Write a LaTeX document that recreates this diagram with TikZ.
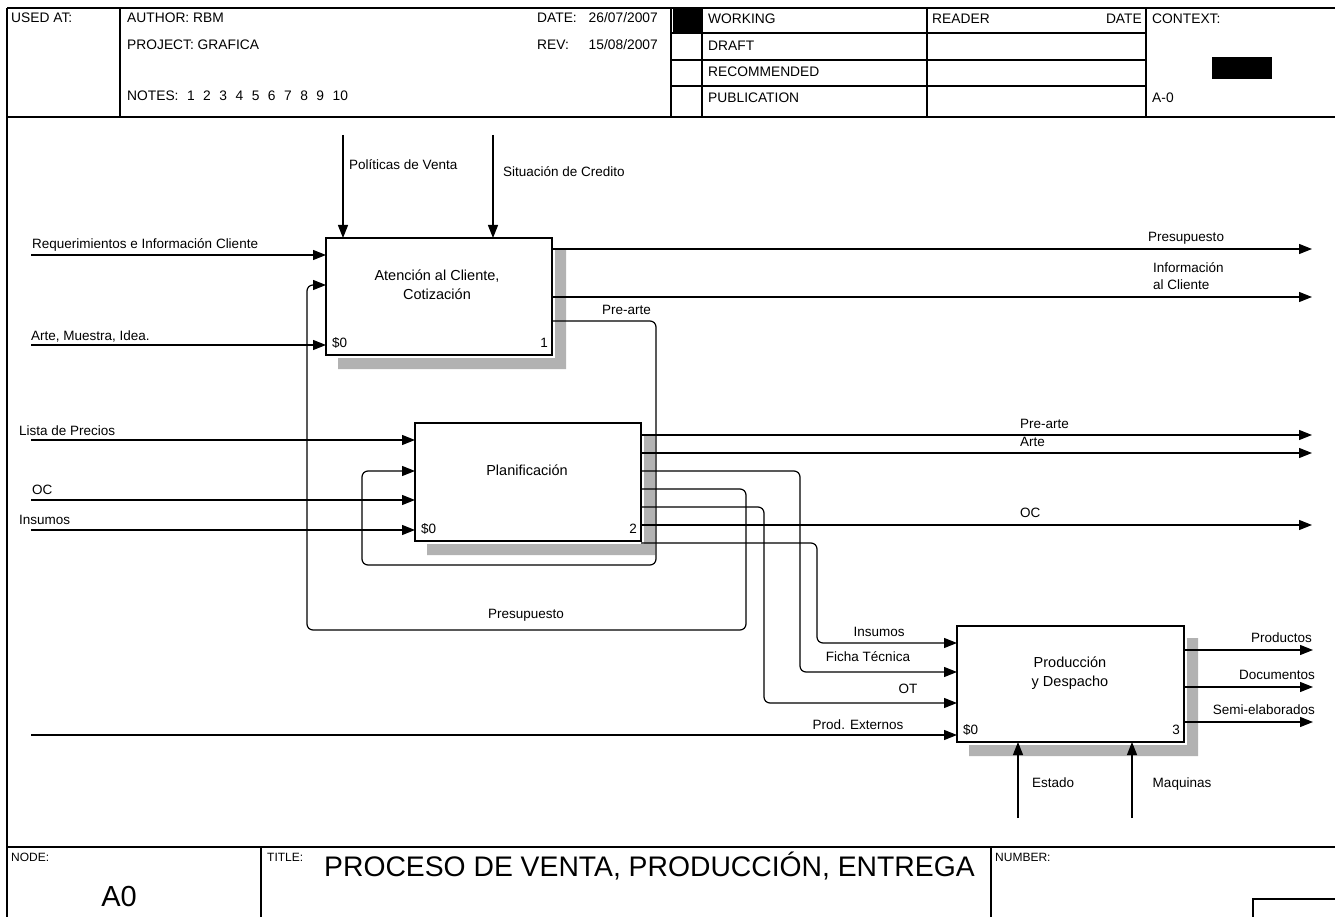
\documentclass[tikz,border=0pt]{standalone}
\usepackage{fontspec}
\setmainfont{Liberation Sans}
\usetikzlibrary{arrows.meta,calc}
\newcommand\fhdr{\fontsize{13.8}{16}\selectfont}
\newcommand\flbl{\fontsize{13.5}{17}\selectfont}
\newcommand\fproc{\fontsize{14.5}{19}\selectfont}
\newcommand\fsml{\fontsize{12}{14}\selectfont}
\newcommand\nsp{\hspace{8.5pt}}
\newcommand\boxshadow[1]{%
  \fill[shd] ($(#1.north east)+(3,12)$) -- ($(#1.north east)+(14,12)$) --
    ($(#1.south east)+(14,14)$) -- ($(#1.south west)+(12,14)$) --
    ($(#1.south west)+(12,3)$) -- ($(#1.south east)+(3,3)$) -- cycle;}
\begin{document}
\begin{tikzpicture}[x=1pt,y=-1pt,
  frame/.style={line width=1.4pt},
  procbox/.style={draw, line width=2.6pt, inner sep=0pt, outer sep=0pt},
  conn/.style={line width=1.2pt, rounded corners=6pt},
  arr/.style={conn, -{Triangle[length=13pt,width=10pt]}},
  lbl/.style={font=\flbl, inner sep=0pt},
  boxlbl/.style={font=\fproc, inner sep=0pt, align=center},
  hdr/.style={font=\fhdr, inner sep=0pt},
  sml/.style={font=\fsml, inner sep=0pt},
  shd/.style={fill=black!30}]
\useasboundingbox (0,0) rectangle (1335,917);

% ---------- frame and header ----------
\draw[frame] (7,8) -- (1335,8);
\draw[frame] (7,8) -- (7,917);
\draw[frame] (7,117) -- (1335,117);
\draw[frame] (7,847) -- (1335,847);
\foreach \x in {120,671,702,927,1146} \draw[frame] (\x,8) -- (\x,117);
\foreach \y in {33,60,86} \draw[frame] (671,\y) -- (1146,\y);
\fill (673,9) rectangle (702,32);
\fill (1212,57) rectangle (1272,79);
\draw[frame] (261,847) -- (261,917);
\draw[frame] (991,847) -- (991,917);
\draw[frame] (1335,899) -| (1253,917);

\node[hdr, anchor=base west] (hused) at (11,23) {USED AT:};
\node[hdr, anchor=base west] (hauth) at (127,23) {AUTHOR: RBM};
\node[hdr, anchor=base west] (hproj) at (127,50) {PROJECT: GRAFICA};
\node[hdr, anchor=base west] (hnotes) at (127,101) {NOTES:\nsp 1\nsp 2\nsp 3\nsp 4\nsp 5\nsp 6\nsp 7\nsp 8\nsp 9\nsp 10};
\node[hdr, anchor=base west] (hdate) at (537,23) {DATE:};
\node[hdr, anchor=base east] (hdatev) at (658,23) {26/07/2007};
\node[hdr, anchor=base west] (hrev) at (537,50) {REV:};
\node[hdr, anchor=base east] (hrevv) at (658,50) {15/08/2007};
\node[hdr, anchor=base west] (hwork) at (708,24) {WORKING};
\node[hdr, anchor=base west] (hdraft) at (708,51) {DRAFT};
\node[hdr, anchor=base west] (hrec) at (708,77) {RECOMMENDED};
\node[hdr, anchor=base west] (hpub) at (708,103) {PUBLICATION};
\node[hdr, anchor=base west] (hread) at (932,24) {READER};
\node[hdr, anchor=base east] (hrdate) at (1142,24) {DATE};
\node[hdr, anchor=base west] (hctx) at (1152,24) {CONTEXT:};
\node[hdr, anchor=base west] (hnode) at (1152,103) {A-0};

% ---------- footer ----------
\node[sml, anchor=base west] (fnode) at (11,861) {NODE:};
\node[sml, anchor=base west] (ftitle) at (267,861) {TITLE:};
\node[sml, anchor=base west] (fnum) at (995,861) {NUMBER:};
\node[inner sep=0pt, anchor=base west, font=\fontsize{28.3}{32}\selectfont] (title) at (324,876) {PROCESO DE VENTA, PRODUCCIÓN, ENTREGA};
\node[inner sep=0pt, anchor=base, font=\fontsize{29}{32}\selectfont] (a0) at (119,906) {A0};

% ---------- activity boxes ----------
\node[procbox, minimum width=226pt, minimum height=117pt] (b1) at (439,296.5) {};
\node[procbox, minimum width=226pt, minimum height=118pt] (b2) at (528,482) {};
\node[procbox, minimum width=227pt, minimum height=116pt] (b3) at (1070.5,684) {};
\boxshadow{b1}
\boxshadow{b2}
\boxshadow{b3}

\node[boxlbl] (t1) at (437,284.5) {Atención al Cliente,\\Cotización};
\node[boxlbl] (t2) at (527,470) {Planificación};
\node[boxlbl] (t3) at (1070,673) {Producción\\y Despacho};
\node[lbl, anchor=base west] (s1) at ($(b1.south west)+(6,-8)$) {\$0};
\node[lbl, anchor=base east] (n1) at ($(b1.south east)+(-4,-8)$) {1};
\node[lbl, anchor=base west] (s2) at ($(b2.south west)+(6,-8)$) {\$0};
\node[lbl, anchor=base east] (n2) at ($(b2.south east)+(-4,-8)$) {2};
\node[lbl, anchor=base west] (s3) at ($(b3.south west)+(6,-8)$) {\$0};
\node[lbl, anchor=base east] (n3) at ($(b3.south east)+(-4,-8)$) {3};

% ---------- box 1 connectors ----------
\coordinate (req) at (31,255);
\coordinate (ami) at (31,345);
\coordinate (pol) at (343,135);
\coordinate (sit) at (493,135);
\coordinate (opres) at (1312,249);
\coordinate (oinfo) at (1312,297);
\draw[arr] (req) -- (req -| b1.west);
\draw[arr] (ami) -- (ami -| b1.west);
\draw[arr] (pol) -- (pol |- b1.north);
\draw[arr] (sit) -- (sit |- b1.north);
\draw[arr] (opres -| b1.east) -- (opres);
\draw[arr] (oinfo -| b1.east) -- (oinfo);
\node[lbl, anchor=base west] (lreq) at (32,249) {Requerimientos e Información Cliente};
\node[lbl, anchor=base west] (lami) at (31,340) {Arte, Muestra, Idea.};
\node[lbl, anchor=base west] (lpol) at (349,170) {Políticas de Venta};
\node[lbl, anchor=base west] (lsit) at (503,177) {Situación de Credito};
\node[lbl, anchor=base west] (lpres) at (1148,242) {Presupuesto};
\node[lbl, anchor=west, align=left] (linfo) at (1153,276.5) {Información\\al Cliente};

% Pre-arte loop: box 1 -> box 2
\coordinate (pa1) at (656,321);
\coordinate (pa2) at (656,565);
\coordinate (pa3) at (362,565);
\coordinate (pa4) at (362,471);
\draw[arr] (pa1 -| b1.east) -- (pa1) -- (pa2) -- (pa3) -- (pa4) -- (pa4 -| b2.west);
\node[lbl, anchor=base west] (lpa) at (602,314) {Pre-arte};

% ---------- box 2 connectors ----------
\coordinate (lis) at (31,440);
\coordinate (oc) at (31,500);
\coordinate (ins) at (31,530);
\draw[arr] (lis) -- (lis -| b2.west);
\draw[arr] (oc) -- (oc -| b2.west);
\draw[arr] (ins) -- (ins -| b2.west);
\node[lbl, anchor=base west] (llis) at (19,435) {Lista de Precios};
\node[lbl, anchor=base west] (loc) at (32,494) {OC};
\node[lbl, anchor=base west] (lins) at (19,524) {Insumos};

\coordinate (o2a) at (1312,435);
\coordinate (o2b) at (1312,453);
\coordinate (o2oc) at (1312,525);
\draw[arr] (o2a -| b2.east) -- (o2a);
\draw[arr] (o2b -| b2.east) -- (o2b);
\draw[arr] (o2oc -| b2.east) -- (o2oc);
\node[lbl, anchor=base west] (lpa2) at (1020,428) {Pre-arte};
\node[lbl, anchor=base west] (larte) at (1020,446) {Arte};
\node[lbl, anchor=base west] (loc2) at (1020,517) {OC};

% Presupuesto feedback: box 2 -> box 1
\coordinate (pr1) at (746,489);
\coordinate (pr2) at (746,630);
\coordinate (pr3) at (307,630);
\coordinate (pr4) at (307,285);
\draw[arr] (pr1 -| b2.east) -- (pr1) -- (pr2) -- (pr3) -- (pr4) -- (pr4 -| b1.west);
\node[lbl, anchor=base] (lpr) at (526,618) {Presupuesto};

% Ficha Tecnica, OT, Insumos: box 2 -> box 3
\coordinate (ft1) at (800,471);
\coordinate (ft2) at (800,672);
\draw[arr] (ft1 -| b2.east) -- (ft1) -- (ft2) -- (ft2 -| b3.west);
\coordinate (ot1) at (764,507);
\coordinate (ot2) at (764,703);
\draw[arr] (ot1 -| b2.east) -- (ot1) -- (ot2) -- (ot2 -| b3.west);
\coordinate (in1) at (817,543);
\coordinate (in2) at (817,643);
\draw[arr] (in1 -| b2.east) -- (in1) -- (in2) -- (in2 -| b3.west);
\node[lbl, anchor=base] (lins3) at (879,636) {Insumos};
\node[lbl, anchor=base] (lft) at (868,661) {Ficha Técnica};
\node[lbl, anchor=base] (lot) at (908,693) {OT};

% ---------- box 3 connectors ----------
\coordinate (pe) at (31,735);
\draw[arr] (pe) -- (pe -| b3.west);
\node[lbl, anchor=base] (lpe) at (858,729) {Prod. Externos};
\coordinate (op) at (1313,650);
\coordinate (od) at (1313,687);
\coordinate (os) at (1313,722);
\draw[arr] (op -| b3.east) -- (op);
\draw[arr] (od -| b3.east) -- (od);
\draw[arr] (os -| b3.east) -- (os);
\node[lbl, anchor=base east] (lp) at (1312,642) {Productos};
\node[lbl, anchor=base east] (ld) at (1315,679) {Documentos};
\node[lbl, anchor=base east] (lse) at (1315,714) {Semi-elaborados};
\coordinate (est) at (1018,818);
\coordinate (maq) at (1132,818);
\draw[arr] (est) -- (est |- b3.south);
\draw[arr] (maq) -- (maq |- b3.south);
\node[lbl, anchor=base] (lest) at (1053,787) {Estado};
\node[lbl, anchor=base] (lmaq) at (1182,787) {Maquinas};
\end{tikzpicture}
\end{document}
